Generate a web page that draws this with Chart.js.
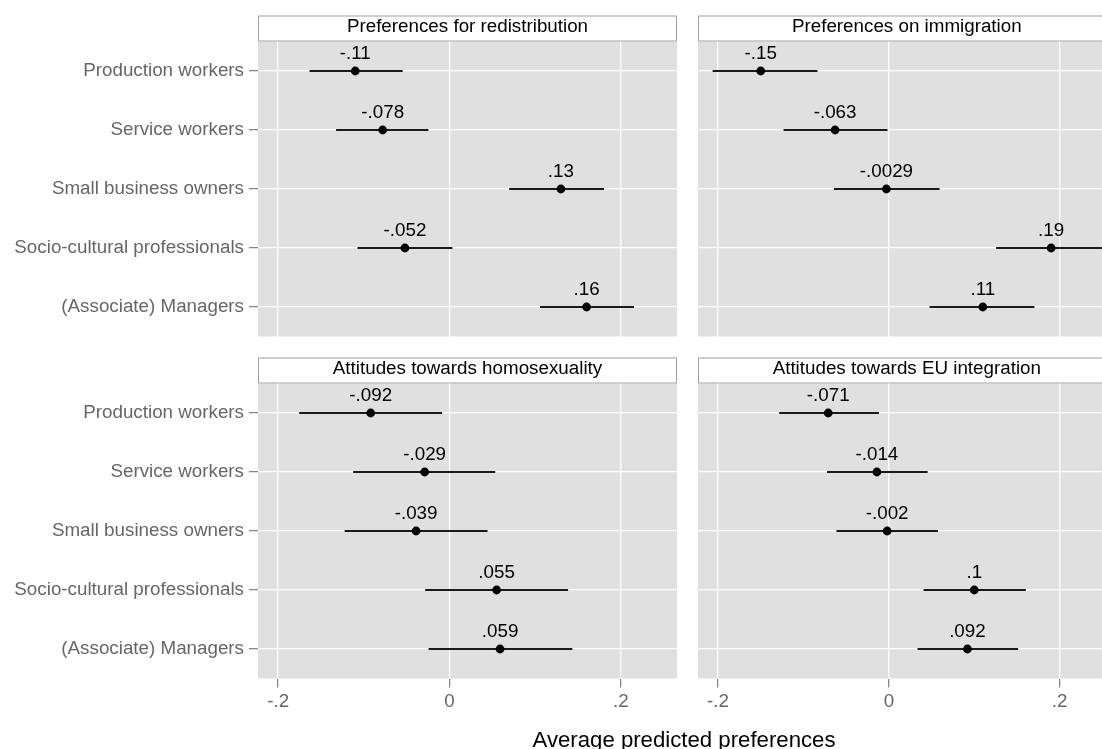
<!DOCTYPE html>
<html>
<head>
<meta charset="utf-8">
<script src="https://cdn.jsdelivr.net/npm/chart.js@4.4.1/dist/chart.umd.min.js"></script>
<style>
  html, body { margin: 0; padding: 0; background: #fff; overflow: hidden; width: 1102px; height: 749px; }
  #wrap { position: relative; width: 1120px; height: 749px; }
  #wrap canvas { position: absolute; left: 0; top: 0; }
  #xtitle {
    position: absolute; left: 484px; width: 400px; top: 729px;
    text-align: center; font: 22.2px "Liberation Sans", Arial, sans-serif; line-height: 22.2px; color: #000;
  }
</style>
</head>
<body>
<div id="wrap">
  <canvas id="p0" width="1120" height="749"></canvas>
  <canvas id="p1" width="1120" height="749"></canvas>
  <canvas id="p2" width="1120" height="749"></canvas>
  <canvas id="p3" width="1120" height="749"></canvas>
  <div id="xtitle">Average predicted preferences</div>
</div>
<script>
// Occupational classes shown on every panel
const categories = [
  'Production workers',
  'Service workers',
  'Small business owners',
  'Socio-cultural professionals',
  '(Associate) Managers'
];

const panelTitles = [
  'Preferences for redistribution',
  'Preferences on immigration',
  'Attitudes towards homosexuality',
  'Attitudes towards EU integration'
];

const xTickValues = [-0.2, 0, 0.2];
const xTickLabels = ['-.2', '0', '.2'];

// Point estimates and 95% confidence bounds per outcome
const redistEst = [-0.11, -0.078, 0.13, -0.052, 0.16];
const redistLo  = [-0.163, -0.132, 0.070, -0.107, 0.106];
const redistHi  = [-0.055, -0.025, 0.180, 0.003, 0.215];

const immigEst = [-0.15, -0.063, -0.0029, 0.19, 0.11];
const immigLo  = [-0.206, -0.123, -0.064, 0.126, 0.048];
const immigHi  = [-0.084, -0.002, 0.059, 0.249, 0.170];

const homoEst = [-0.092, -0.029, -0.039, 0.055, 0.059];
const homoLo  = [-0.175, -0.112, -0.122, -0.028, -0.024];
const homoHi  = [-0.009, 0.053, 0.044, 0.138, 0.143];

const euEst = [-0.071, -0.014, -0.002, 0.1, 0.092];
const euLo  = [-0.128, -0.072, -0.061, 0.041, 0.034];
const euHi  = [-0.012, 0.045, 0.057, 0.160, 0.151];

// Shared x range of all facets
const X_MIN = -0.2235;
const X_MAX = 0.2655;

const FONT = { family: '"Liberation Sans", Arial, sans-serif', size: 18.8 };
const FONT_CSS = '18.8px "Liberation Sans", Arial, sans-serif';

// Stata-like label: drop the leading zero
function fmt(v) {
  return String(v).replace('0.', '.');
}

// Panel background, facet strip, and value labels above the points
const facetPlugin = {
  id: 'facet',
  beforeDraw(chart, args, opts) {
    const { ctx, chartArea: a } = chart;
    const w = a.right - a.left;
    ctx.save();
    ctx.fillStyle = '#e0e0e0';
    ctx.fillRect(a.left, a.top, w, a.bottom - a.top);
    const h = 26;
    ctx.fillStyle = '#ffffff';
    ctx.fillRect(a.left, a.top - h, w, h);
    ctx.strokeStyle = '#a0a0a0';
    ctx.lineWidth = 1;
    ctx.strokeRect(a.left + 0.5, a.top - h + 0.5, w - 1, h - 1);
    ctx.fillStyle = '#000';
    ctx.font = FONT_CSS;
    ctx.textAlign = 'center';
    ctx.textBaseline = 'alphabetic';
    ctx.fillText(opts.title, (a.left + a.right) / 2, a.top - 10);
    ctx.restore();
  },
  afterDatasetsDraw(chart) {
    const { ctx } = chart;
    const meta = chart.getDatasetMeta(1);
    const pts = chart.data.datasets[1].data;
    ctx.save();
    ctx.fillStyle = '#000';
    ctx.font = FONT_CSS;
    ctx.textAlign = 'center';
    ctx.textBaseline = 'alphabetic';
    meta.data.forEach((el, i) => {
      ctx.fillText(fmt(pts[i].x), el.x, el.y - 12.5);
    });
    ctx.restore();
  }
};

// Where each facet sits on the page
const layouts = [
  { padding: { left: 0,   top: 41.5,  right: 443, bottom: 412.5 }, showY: true,  showX: false },
  { padding: { left: 698, top: 41.5,  right: 3,   bottom: 412.5 }, showY: false, showX: false },
  { padding: { left: 0,   top: 383.5, right: 443, bottom: 30.5 },  showY: true,  showX: true },
  { padding: { left: 698, top: 383.5, right: 3,   bottom: 30.5 },  showY: false, showX: true }
];

const series = [
  [redistEst, redistLo, redistHi],
  [immigEst, immigLo, immigHi],
  [homoEst, homoLo, homoHi],
  [euEst, euLo, euHi]
];

series.forEach(([est, lo, hi], k) => {
  const L = layouts[k];
  new Chart(document.getElementById('p' + k), {
    type: 'bar',
    data: {
      labels: categories,
      datasets: [
        {
          type: 'bar',
          data: lo.map((v, i) => [v, hi[i]]),
          backgroundColor: '#1a1a1a',
          borderWidth: 0,
          barThickness: 1.3,
          order: 2
        },
        {
          type: 'scatter',
          data: est.map((v, i) => ({ x: v, y: categories[i] })),
          pointRadius: 4.4,
          pointBackgroundColor: '#000',
          pointBorderWidth: 0,
          order: 1
        }
      ]
    },
    options: {
      indexAxis: 'y',
      responsive: false,
      animation: false,
      devicePixelRatio: 1,
      events: [],
      layout: { padding: L.padding },
      plugins: {
        legend: { display: false },
        tooltip: { enabled: false },
        facet: { title: panelTitles[k] }
      },
      scales: {
        x: {
          type: 'linear',
          min: X_MIN,
          max: X_MAX,
          afterBuildTicks: s => { s.ticks = xTickValues.map(v => ({ value: v })); },
          grid: {
            color: '#ffffff', lineWidth: 1.3,
            drawTicks: L.showX, tickLength: 9, tickColor: '#7f7f7f', tickWidth: 1.2
          },
          border: { display: false },
          ticks: {
            display: L.showX, padding: 3, color: '#666666', font: FONT,
            callback: v => xTickLabels[xTickValues.indexOf(v)]
          },
          afterFit: s => { s.height = L.showX ? 40 : 0; s.paddingLeft = 0; s.paddingRight = 0; }
        },
        y: {
          type: 'category',
          offset: true,
          grid: {
            offset: false, color: '#ffffff', lineWidth: 1.3,
            drawTicks: L.showY, tickLength: 9, tickColor: '#7f7f7f', tickWidth: 1.2
          },
          border: { display: false },
          ticks: { display: L.showY, padding: 5, color: '#666666', font: FONT },
          afterFit: s => { s.width = L.showY ? 258 : 0; s.paddingTop = 0; s.paddingBottom = 0; }
        }
      }
    },
    plugins: [facetPlugin]
  });
});
</script>
</body>
</html>
